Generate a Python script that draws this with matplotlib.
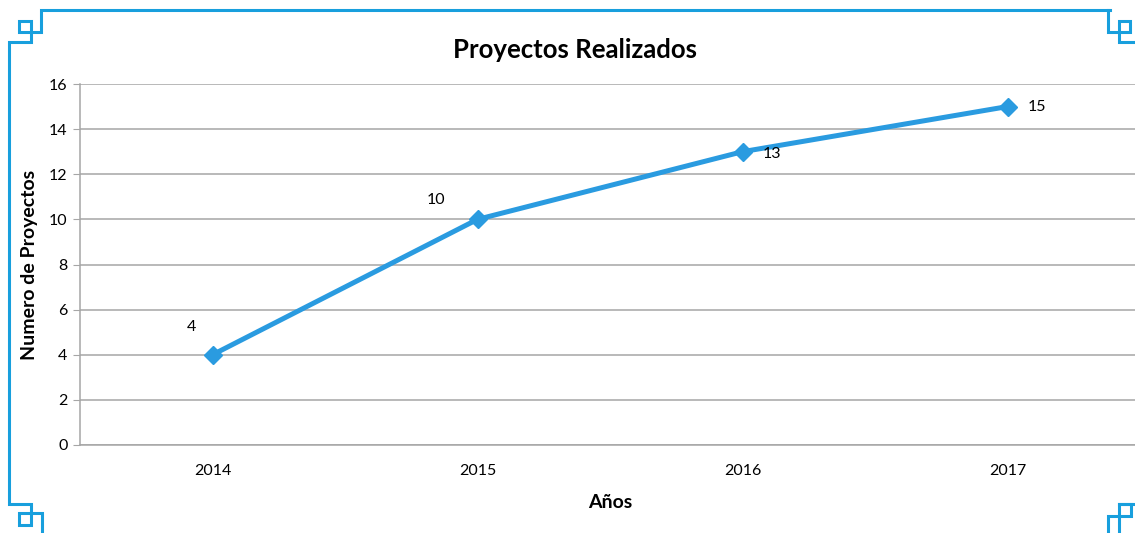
import matplotlib
matplotlib.use('Agg')
import matplotlib.pyplot as plt

plt.rcParams['font.family'] = ['Lato', 'DejaVu Sans']

# datos del grafico
anios = ['2014', '2015', '2016', '2017']
proyectos = [4, 10, 13, 15]
yticks = [0, 2, 4, 6, 8, 10, 12, 14, 16]

W, H = 1135, 533
fig = plt.figure(figsize=(W / 100, H / 100), dpi=100)

ax = fig.add_axes([80 / W, (H - 445) / H, 1060 / W, 361 / H])
x = range(len(anios))
ax.plot(x, proyectos, color='#2a9be0', lw=3.6, marker='D', markersize=9,
        solid_capstyle='round', zorder=3)

# etiquetas de datos
offsets = [(-15, 20), (-30, 14), (21, -2), (21, 0)]
for i, v in enumerate(proyectos):
    ax.annotate(str(v), (i, v), xytext=offsets[i], textcoords='offset points',
                ha='center', va='center', fontsize=11.5)

ax.set_xlim(-0.5, 3.5)
ax.set_ylim(0, 16)
ax.set_yticks(yticks)
ax.set_xticks(list(x))
ax.set_xticklabels(anios)
ax.grid(axis='y', color='#a6a6a6', lw=1.1)
ax.set_axisbelow(True)
for s in ['top', 'right']:
    ax.spines[s].set_visible(False)
ax.spines['left'].set_color('#a6a6a6')
ax.spines['bottom'].set_color('#a6a6a6')
ax.spines['left'].set_linewidth(1.1)
ax.spines['bottom'].set_linewidth(1.1)
ax.tick_params(axis='y', length=5, color='#a6a6a6', labelsize=11.5, pad=4)
ax.tick_params(axis='x', length=0, labelsize=11.5, pad=14)

ax.set_title('Proyectos Realizados', fontsize=18.5, fontweight='bold', pad=19)
ax.set_xlabel('Años', fontsize=14, fontweight='bold', labelpad=11)
ax.set_ylabel('Numero de Proyectos', fontsize=14, fontweight='bold', labelpad=8)
ax.title.set_position(((575 - 80) / 1060, 1))

# marco decorativo
frame = fig.add_axes([0, 0, 1, 1], zorder=-1)
frame.set_xlim(0, W)
frame.set_ylim(H, 0)
frame.axis('off')
c = '#189fdd'
paths = [
    [(1110, 10), (41, 10), (41, 32), (19, 32), (19, 21), (31, 21), (31, 42), (9, 42), (9, 504),
     (31, 504), (31, 525), (19, 525), (19, 513), (42, 513), (42, 540)],
    [(1108, 10), (1108, 32), (1130, 32), (1130, 21), (1119, 21), (1119, 42), (1140, 42)],
    [(1140, 504), (1119, 504), (1119, 540)],
    [(1119, 504), (1131, 504), (1131, 516), (1108, 516), (1108, 540)],
]
for p in paths:
    xs, ys = zip(*p)
    frame.plot(xs, ys, color=c, lw=2.2, solid_joinstyle='miter')

fig.savefig('out.png', dpi=100)
